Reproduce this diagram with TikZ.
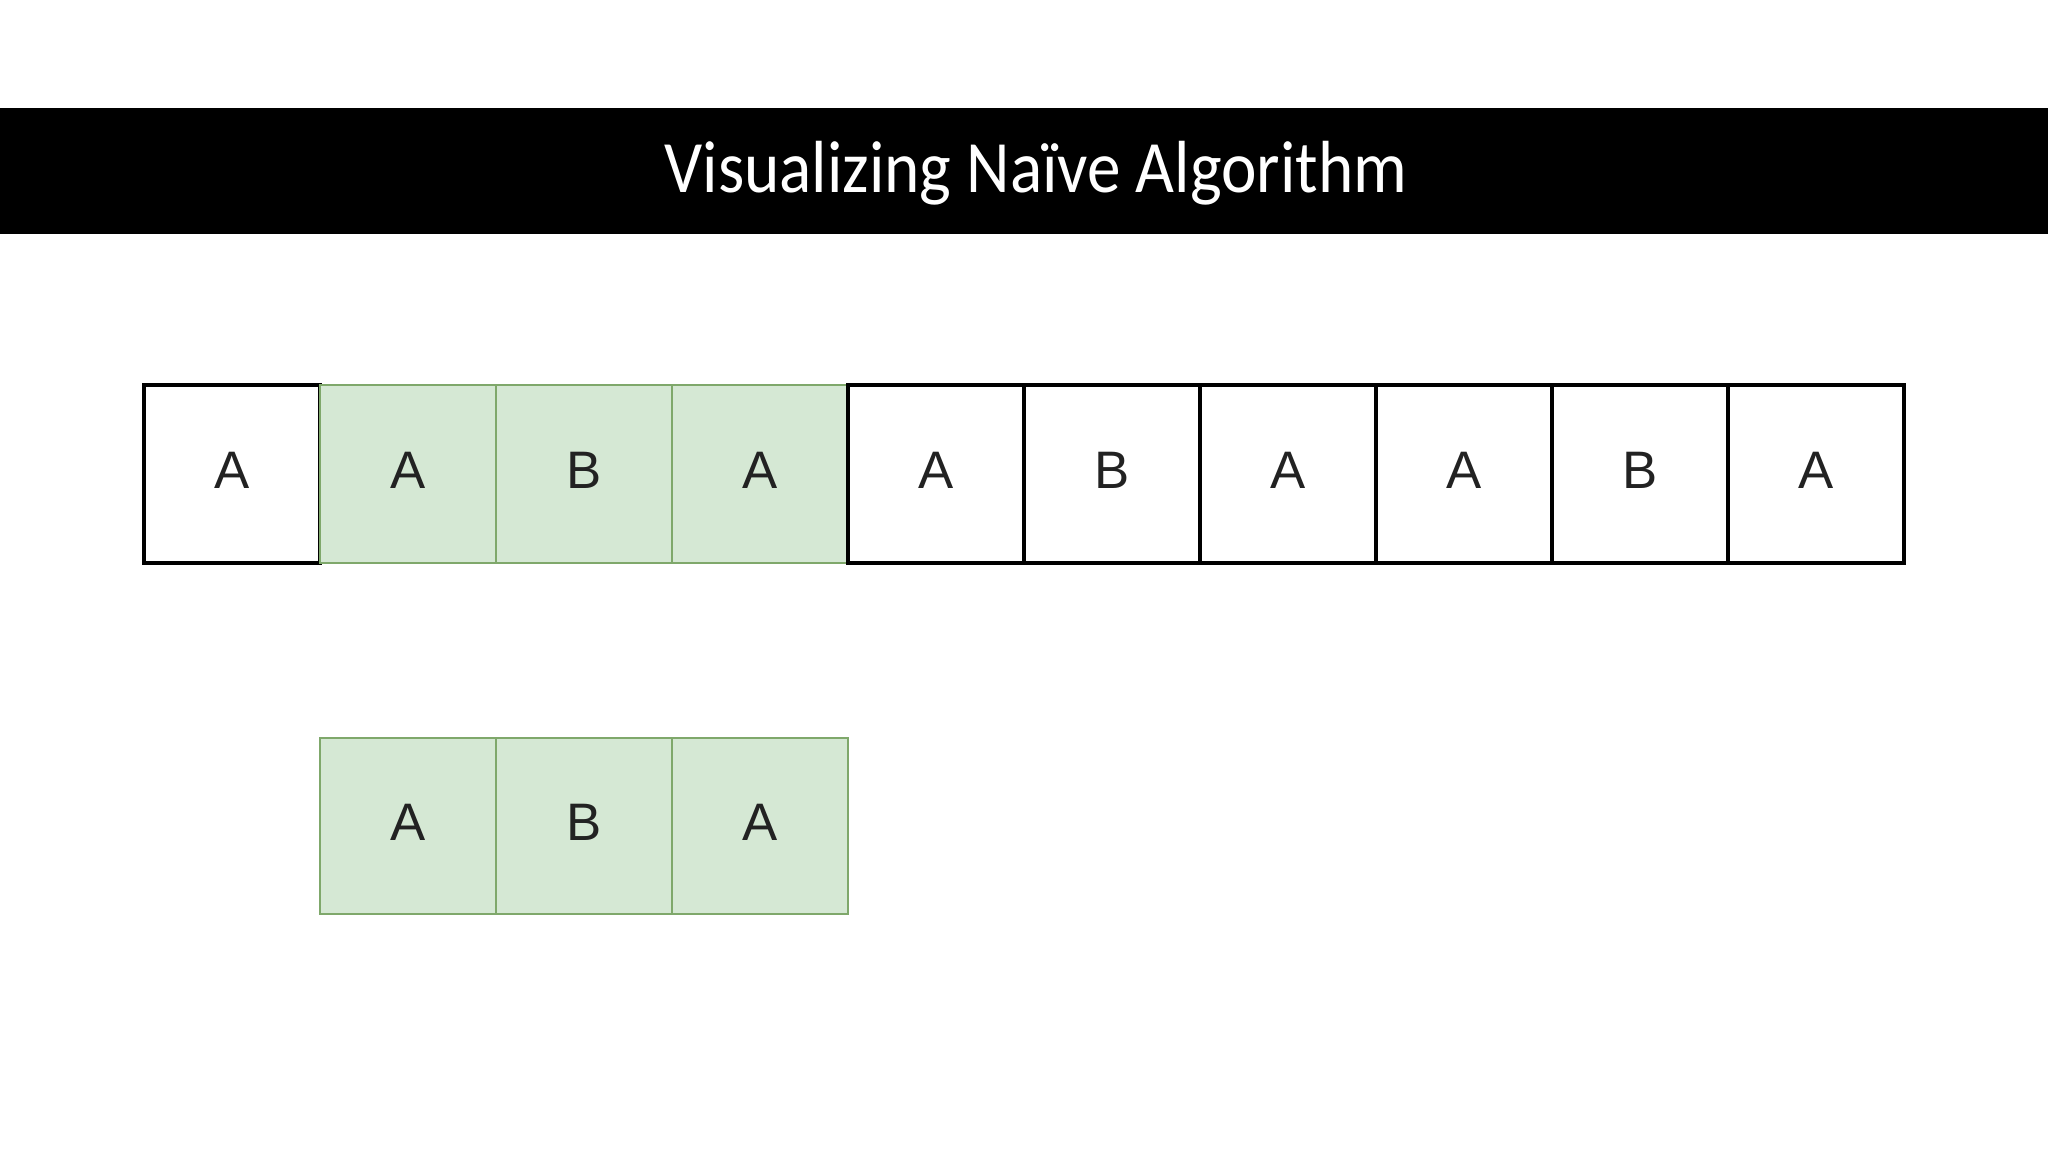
\documentclass[tikz,border=0pt]{standalone}
\usepackage{fontspec}
\setmainfont{Liberation Sans}
\newfontfamily\titlefont{Carlito}
\definecolor{cellgreen}{HTML}{D5E8D4}
\definecolor{cellgreenline}{HTML}{7FA86B}
\definecolor{celltext}{HTML}{222222}
\begin{document}
\begin{tikzpicture}[x=0.01cm,y=-0.01cm,
  cellbase/.style={minimum width=176*0.01cm,minimum height=178*0.01cm,inner sep=0pt,font=\fontsize{15}{15}\selectfont,text=celltext,text height=10.8pt,text depth=2.4pt},
  cellw/.style={cellbase,draw=black,line width=0.9pt,fill=white},
  cellg/.style={cellbase,draw=cellgreenline,line width=0.6pt,fill=cellgreen},
  cellgb/.style={cellg,line width=0.75pt,minimum height=176*0.01cm}]
\useasboundingbox (0,0) rectangle (2048,1152);
\fill[black] (0,108) rectangle (2048,234);
\node[text=white,font=\titlefont\fontsize{21}{21}\selectfont] (title) at (1036,173) {\scalebox{0.91}[1]{Visualizing Naïve Algorithm}};
% top row
\node[cellw] (t1) at (232,474) {A};
\node[cellg] (t2) at (408,474) {A};
\node[cellg] (t3) at (584,474) {B};
\node[cellg] (t4) at (760,474) {A};
\node[cellw] (t5) at (936,474) {A};
\node[cellw] (t6) at (1112,474) {B};
\node[cellw] (t7) at (1288,474) {A};
\node[cellw] (t8) at (1464,474) {A};
\node[cellw] (t9) at (1640,474) {B};
\node[cellw] (t10) at (1816,474) {A};
% bottom row
\node[cellgb] (b1) at (408,826) {A};
\node[cellgb] (b2) at (584,826) {B};
\node[cellgb] (b3) at (760,826) {A};
\end{tikzpicture}
\end{document}
